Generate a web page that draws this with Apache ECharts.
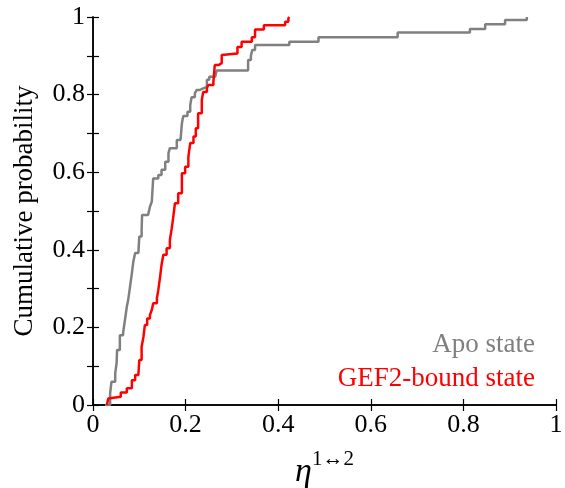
<!DOCTYPE html>
<html>
<head>
<meta charset="utf-8">
<script src="https://cdn.jsdelivr.net/npm/echarts@6/dist/echarts.min.js"></script>
<style>
html,body{margin:0;padding:0;background:#fff;}
#chart{width:565px;height:488px;}
</style>
</head>
<body>
<div id="chart"></div>
<script>
// Empirical CDF jump points (x = eta value, y = cumulative probability after the jump)
const apoX = [0.026,0.037,0.040,0.048,0.051,0.052,0.058,0.065,0.069,0.073,0.076,0.080,0.084,0.087,0.091,0.098,0.100,0.105,0.106,0.119,0.123,0.127,0.130,0.141,0.148,0.156,0.163,0.166,0.181,0.189,0.192,0.195,0.204,0.210,0.213,0.220,0.224,0.231,0.238,0.246,0.251,0.264,0.267,0.335,0.341,0.344,0.350,0.424,0.487,0.658,0.814,0.847,0.890,0.937];
const apoY = [0,0.031,0.060,0.082,0.108,0.142,0.180,0.186,0.219,0.253,0.271,0.305,0.340,0.369,0.392,0.395,0.434,0.451,0.490,0.494,0.511,0.524,0.584,0.593,0.606,0.627,0.649,0.662,0.683,0.687,0.726,0.745,0.756,0.773,0.793,0.803,0.812,0.816,0.820,0.838,0.846,0.851,0.862,0.889,0.900,0.915,0.928,0.936,0.948,0.960,0.969,0.981,0.992,1.0];
const gefX = [0.030,0.033,0.037,0.060,0.073,0.084,0.091,0.098,0.100,0.105,0.109,0.112,0.117,0.123,0.127,0.130,0.138,0.141,0.145,0.148,0.152,0.159,0.166,0.170,0.173,0.177,0.184,0.192,0.199,0.206,0.210,0.217,0.222,0.227,0.235,0.238,0.246,0.249,0.260,0.263,0.271,0.278,0.280,0.312,0.321,0.343,0.350,0.369,0.415,0.422,0.424];
const gefY = [0,0.017,0.021,0.032,0.043,0.064,0.077,0.082,0.116,0.150,0.176,0.206,0.223,0.232,0.245,0.262,0.275,0.296,0.331,0.361,0.387,0.404,0.425,0.455,0.481,0.520,0.546,0.597,0.614,0.640,0.675,0.692,0.713,0.752,0.786,0.807,0.816,0.825,0.833,0.876,0.881,0.902,0.906,0.923,0.936,0.948,0.968,0.979,0.988,0.997,1.0];
const xTicks = [0, 0.2, 0.4, 0.6, 0.8, 1];
const yTicks = [0, 0.2, 0.4, 0.6, 0.8, 1];
const seriesNames = ['Apo state', 'GEF2-bound state'];

const FONT = 'Liberation Serif';
const pair = (xs, ys) => xs.map((x, i) => [x, ys[i]]);
const fmt = v => { const r = Math.round(v * 10) / 10; return (Math.round(r * 10) % 2 === 0) ? String(r) : ''; };

const chart = echarts.init(document.getElementById('chart'));
const axisLine = {show: true, lineStyle: {color: '#000', width: 1.5}};
const tickStyle = {show: true, inside: true, length: 6, lineStyle: {color: '#000', width: 1.2}};
chart.setOption({
  animation: false,
  backgroundColor: '#fff',
  grid: {left: 93, right: 9, top: 17, bottom: 83, containLabel: false, outerBoundsMode: 'none'},
  xAxis: [
    {type: 'value', min: 0, max: 1, interval: 0.2, position: 'bottom',
     axisLine, axisTick: tickStyle, splitLine: {show: false},
     axisLabel: {fontFamily: FONT, fontSize: 26, color: '#000', margin: 7,
       formatter: v => String(Math.round(v * 10) / 10)},
     name: '{a|η}{b|1↔2}', nameLocation: 'middle', nameGap: 44,
     nameTextStyle: {fontFamily: FONT, rich: {
       a: {fontFamily: FONT, fontSize: 34, fontStyle: 'italic', color: '#000', lineHeight: 40, verticalAlign: 'bottom'},
       b: {fontFamily: FONT, fontSize: 21, color: '#000', lineHeight: 22, verticalAlign: 'top'}
     }}},
    {type: 'value', min: 0, max: 1, interval: 0.2, position: 'top',
     axisLine, axisTick: tickStyle, axisLabel: {show: false}, splitLine: {show: false}}
  ],
  yAxis: [
    {type: 'value', min: 0, max: 1, interval: 0.1, position: 'left',
     axisLine, axisTick: tickStyle, splitLine: {show: false},
     axisLabel: {fontFamily: FONT, fontSize: 26, color: '#000', margin: 8, formatter: fmt},
     name: 'Cumulative probability', nameLocation: 'middle', nameGap: 55,
     nameTextStyle: {fontFamily: FONT, fontSize: 27, color: '#000'}},
    {type: 'value', min: 0, max: 1, interval: 0.1, position: 'right',
     axisLine, axisTick: tickStyle, axisLabel: {show: false}, splitLine: {show: false}}
  ],
  series: [
    {name: seriesNames[0], type: 'line', step: 'end', data: pair(apoX, apoY),
     showSymbol: false, lineStyle: {color: '#808080', width: 2.5}, z: 2},
    {name: seriesNames[1], type: 'line', step: 'end', data: pair(gefX, gefY),
     showSymbol: false, lineStyle: {color: '#ff0000', width: 2.5}, z: 3}
  ],
  graphic: [
    {type: 'text', right: 30, top: 331, style: {text: seriesNames[0], fill: '#7f7f7f', fontFamily: FONT, fontSize: 27, textAlign: 'right'}},
    {type: 'text', right: 30, top: 365, style: {text: seriesNames[1], fill: '#ff0000', fontFamily: FONT, fontSize: 27, textAlign: 'right'}}
  ]
});
</script>
</body>
</html>
